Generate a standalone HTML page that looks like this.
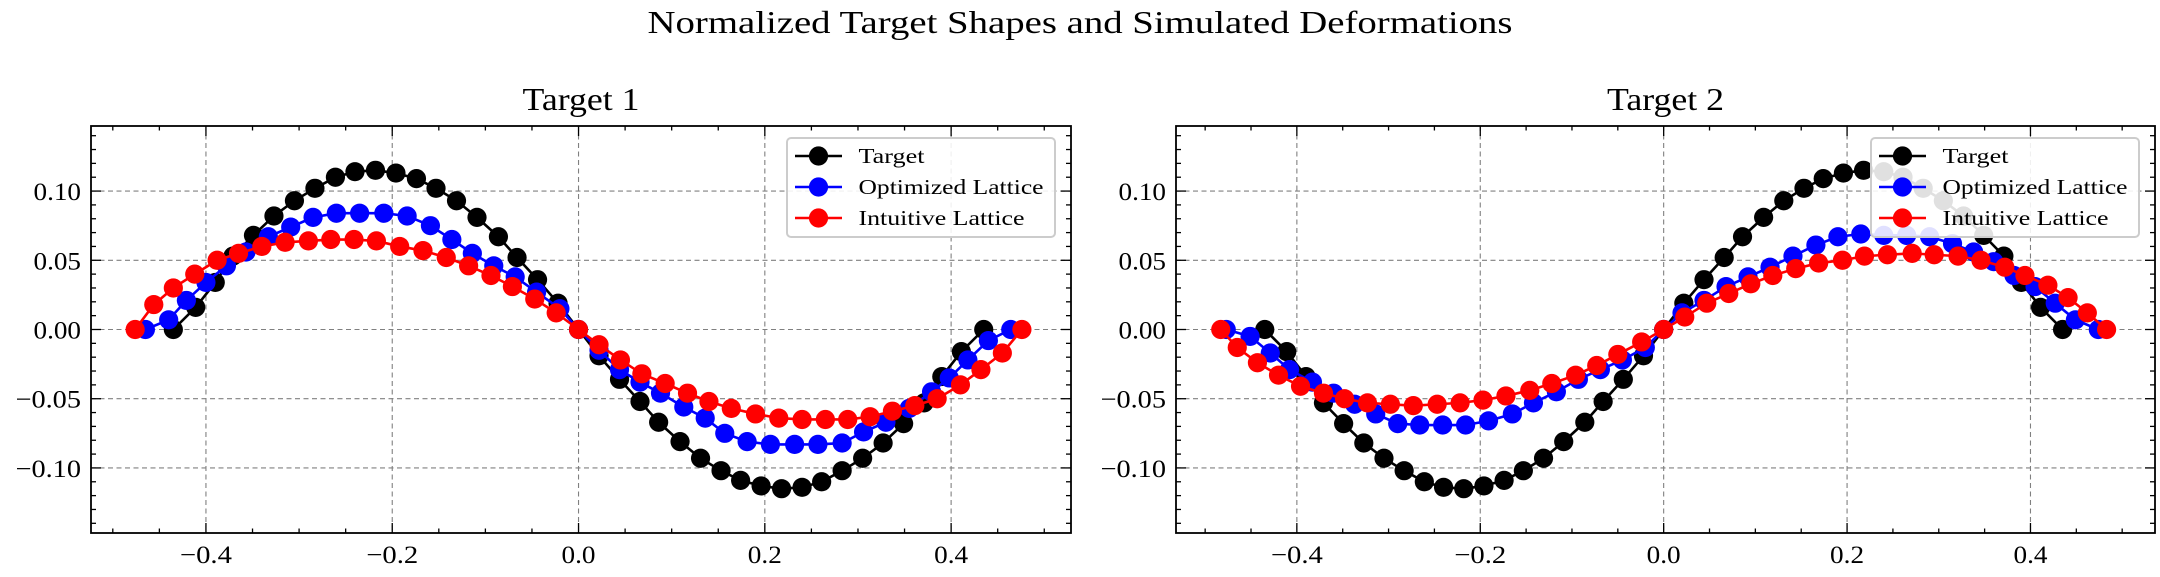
<!DOCTYPE html>
<html><head><meta charset="utf-8"><style>
html,body{margin:0;padding:0;background:#fff;}
svg{display:block;font-family:"Liberation Serif","DejaVu Serif",serif;}
</style></head><body>
<svg id="fig" width="2160" height="577" viewBox="0 0 2160 577" xmlns="http://www.w3.org/2000/svg">
<rect width="2160" height="577" fill="#fff"/>
<text x="1080" y="33" text-anchor="middle" font-size="32" textLength="865" lengthAdjust="spacingAndGlyphs">Normalized Target Shapes and Simulated Deformations</text>
</svg>
<script>
// ---- Target 1 data ----
const t1TargetX = [-0.435,-0.411,-0.390,-0.371,-0.349,-0.327,-0.305,-0.283,-0.261,-0.240,-0.218,-0.196,-0.174,-0.153,-0.131,-0.109,-0.086,-0.066,-0.044,-0.022,0,0.022,0.044,0.066,0.086,0.109,0.131,0.153,0.174,0.196,0.218,0.240,0.261,0.283,0.305,0.327,0.349,0.371,0.390,0.411,0.435];
const t1TargetY = [0,0.016,0.034,0.053,0.068,0.082,0.093,0.102,0.110,0.114,0.115,0.113,0.109,0.102,0.093,0.081,0.067,0.052,0.036,0.019,0,-0.019,-0.036,-0.052,-0.067,-0.081,-0.093,-0.102,-0.109,-0.113,-0.115,-0.114,-0.110,-0.102,-0.093,-0.082,-0.068,-0.053,-0.034,-0.016,0];
const t1OptX = [-0.465,-0.440,-0.421,-0.400,-0.378,-0.357,-0.333,-0.309,-0.285,-0.260,-0.235,-0.209,-0.184,-0.159,-0.136,-0.114,-0.091,-0.068,-0.045,-0.020,0,0.022,0.044,0.066,0.088,0.113,0.136,0.157,0.181,0.206,0.232,0.257,0.283,0.306,0.330,0.355,0.379,0.398,0.418,0.440,0.464];
const t1OptY = [0,0.007,0.021,0.034,0.046,0.056,0.067,0.074,0.081,0.084,0.084,0.084,0.082,0.075,0.065,0.055,0.046,0.038,0.027,0.015,0,-0.015,-0.029,-0.038,-0.046,-0.056,-0.064,-0.075,-0.081,-0.083,-0.083,-0.083,-0.082,-0.074,-0.067,-0.057,-0.045,-0.035,-0.022,-0.008,0];
const t1IntX = [-0.476,-0.456,-0.435,-0.412,-0.388,-0.365,-0.340,-0.315,-0.290,-0.266,-0.241,-0.217,-0.192,-0.167,-0.142,-0.118,-0.094,-0.071,-0.047,-0.024,0,0.022,0.045,0.068,0.093,0.117,0.140,0.164,0.190,0.215,0.240,0.265,0.289,0.313,0.337,0.361,0.385,0.410,0.432,0.455,0.476];
const t1IntY = [0,0.018,0.030,0.040,0.050,0.055,0.060,0.063,0.064,0.065,0.065,0.064,0.060,0.057,0.052,0.046,0.039,0.031,0.022,0.012,0,-0.011,-0.022,-0.032,-0.039,-0.046,-0.052,-0.057,-0.061,-0.064,-0.065,-0.065,-0.065,-0.063,-0.059,-0.055,-0.050,-0.040,-0.029,-0.017,0];
// ---- Target 2 data ----
const t2TargetX = [-0.435,-0.411,-0.390,-0.371,-0.349,-0.327,-0.305,-0.283,-0.261,-0.240,-0.218,-0.196,-0.174,-0.153,-0.131,-0.109,-0.086,-0.066,-0.044,-0.022,0,0.022,0.044,0.066,0.086,0.109,0.131,0.153,0.174,0.196,0.218,0.240,0.261,0.283,0.305,0.327,0.349,0.371,0.390,0.411,0.435];
const t2TargetY = [0,-0.016,-0.034,-0.053,-0.068,-0.082,-0.093,-0.102,-0.110,-0.114,-0.115,-0.113,-0.109,-0.102,-0.093,-0.081,-0.067,-0.052,-0.036,-0.019,0,0.019,0.036,0.052,0.067,0.081,0.093,0.102,0.109,0.113,0.115,0.114,0.110,0.102,0.093,0.082,0.068,0.053,0.034,0.016,0];
const t2OptX = [-0.477,-0.451,-0.429,-0.408,-0.383,-0.360,-0.337,-0.314,-0.290,-0.266,-0.241,-0.216,-0.191,-0.165,-0.142,-0.117,-0.093,-0.069,-0.045,-0.020,0,0.020,0.044,0.068,0.092,0.116,0.141,0.166,0.190,0.215,0.240,0.265,0.290,0.315,0.338,0.360,0.382,0.405,0.427,0.449,0.474];
const t2OptY = [0,-0.005,-0.017,-0.029,-0.038,-0.046,-0.054,-0.061,-0.068,-0.069,-0.069,-0.069,-0.066,-0.061,-0.053,-0.045,-0.036,-0.029,-0.022,-0.013,0,0.012,0.021,0.031,0.038,0.045,0.053,0.061,0.067,0.069,0.068,0.068,0.067,0.062,0.056,0.049,0.039,0.031,0.019,0.007,0];
const t2IntX = [-0.483,-0.465,-0.443,-0.420,-0.396,-0.371,-0.348,-0.323,-0.298,-0.273,-0.247,-0.222,-0.197,-0.172,-0.146,-0.122,-0.096,-0.073,-0.050,-0.024,0,0.023,0.047,0.071,0.095,0.119,0.144,0.169,0.195,0.219,0.244,0.271,0.295,0.321,0.346,0.372,0.394,0.419,0.441,0.462,0.483];
const t2IntY = [0,-0.013,-0.024,-0.033,-0.041,-0.046,-0.050,-0.053,-0.054,-0.055,-0.054,-0.053,-0.051,-0.048,-0.044,-0.039,-0.033,-0.026,-0.018,-0.009,0,0.009,0.019,0.026,0.033,0.039,0.044,0.048,0.050,0.053,0.054,0.055,0.054,0.053,0.050,0.045,0.039,0.032,0.023,0.012,0];
// ---- ticks & labels ----
const xTickVals = [-0.4,-0.2,0.0,0.2,0.4];
const xTickLabels = ["\u22120.4","\u22120.2","0.0","0.2","0.4"];
const yTickVals = [-0.10,-0.05,0.00,0.05,0.10];
const yTickLabels = ["\u22120.10","\u22120.05","0.00","0.05","0.10"];
const seriesNames = ["Target","Optimized Lattice","Intuitive Lattice"];
const seriesColors = ["#000000","#0000ff","#ff0000"];
const panelTitles = ["Target 1","Target 2"];

const NS = "http://www.w3.org/2000/svg";
const svg = document.getElementById('fig');
function mk(tag, attrs, parent){
  const e = document.createElementNS(NS, tag);
  for (const k in attrs) e.setAttribute(k, attrs[k]);
  (parent||svg).appendChild(e);
  return e;
}
function labelWidth(s){
  let w=0;
  for (const c of s){ if(c==='\u2212') w+=18; else if(c==='.') w+=7; else w+=13.5; }
  return w;
}

function drawPanel(idx, frame, xlim, ylim, series){
  const g = mk('g', {});
  
  
  const sx = v => frame.x0 + (v - xlim[0]) / (xlim[1]-xlim[0]) * (frame.x1 - frame.x0);
  const sy = v => frame.y1 - (v - ylim[0]) / (ylim[1]-ylim[0]) * (frame.y1 - frame.y0);
  // grid
  xTickVals.forEach(v => {
    const l = mk('line', {x1:sx(v), x2:sx(v), y1:frame.y0, y2:frame.y1, stroke:'#808080', 'stroke-width':1.1, 'stroke-dasharray':'5,3.5'}, g);
    
    
  });
  yTickVals.forEach(v => {
    const l = mk('line', {x1:frame.x0, x2:frame.x1, y1:sy(v), y2:sy(v), stroke:'#808080', 'stroke-width':1.1, 'stroke-dasharray':'5,3.5'}, g);
    
    
  });
  // series
  series.forEach((s, si) => {
    const sg = mk('g', {}, g);
    
    
    const pts = s.x.map((xv,i) => sx(xv).toFixed(2) + ',' + sy(s.y[i]).toFixed(2)).join(' ');
    const pl = mk('polyline', {points:pts, fill:'none', stroke:seriesColors[si], 'stroke-width':2.6, 'stroke-linejoin':'round'}, sg);
    
    
    s.x.forEach((xv,i) => {
      const c = mk('circle', {cx:sx(xv), cy:sy(s.y[i]), r:9.6, fill:seriesColors[si]}, sg);
      
      
    });
  });
  // ticks
  const tk = mk('g', {stroke:'#000', 'stroke-width':1.3}, g);
  
  
  for (let k=-10; k<=10; k++){
    const v = k*0.05; if (v < xlim[0] || v > xlim[1]) continue;
    const major = (k % 4 === 0);
    const L = major ? 10 : 4.5;
    mk('line', {x1:sx(v), x2:sx(v), y1:frame.y1, y2:frame.y1-L}, tk);
    mk('line', {x1:sx(v), x2:sx(v), y1:frame.y0, y2:frame.y0+L}, tk);
  }
  for (let k=-14; k<=14; k++){
    const v = k*0.01; if (v < ylim[0] || v > ylim[1]) continue;
    const major = (k % 5 === 0);
    const L = major ? 10 : 5;
    mk('line', {y1:sy(v), y2:sy(v), x1:frame.x0, x2:frame.x0+L}, tk);
    mk('line', {y1:sy(v), y2:sy(v), x1:frame.x1, x2:frame.x1-L}, tk);
  }
  // frame
  const fr = mk('rect', {x:frame.x0, y:frame.y0, width:frame.x1-frame.x0, height:frame.y1-frame.y0, fill:'none', stroke:'#000', 'stroke-width':1.8}, g);
  
  
  // tick labels
  xTickVals.forEach((v,i) => {
    const t = mk('text', {x:sx(v), y:frame.y1+30, 'text-anchor':'middle', 'font-size':25, textLength:labelWidth(xTickLabels[i]), lengthAdjust:'spacingAndGlyphs'}, g);
    t.textContent = xTickLabels[i];
    
    
  });
  yTickVals.forEach((v,i) => {
    const t = mk('text', {x:frame.x0-10, y:sy(v)+9, 'text-anchor':'end', 'font-size':25, textLength:labelWidth(yTickLabels[i]), lengthAdjust:'spacingAndGlyphs'}, g);
    t.textContent = yTickLabels[i];
    
    
  });
  // title
  const ti = mk('text', {x:(frame.x0+frame.x1)/2 + 0, y:110, 'text-anchor':'middle', 'font-size':32, textLength:117, lengthAdjust:'spacingAndGlyphs'}, g);
  ti.textContent = panelTitles[idx];
  
  
  // legend
  const lg = mk('g', {}, g);
  
  
  const lx = frame.x1 - 16 - 268, ly = frame.y0 + 12;
  mk('rect', {x:lx, y:ly, width:268, height:99, rx:4, fill:'#fff', 'fill-opacity':0.88, stroke:'#cccccc', 'stroke-width':2}, lg);
  const rowY = [18, 49, 80];
  const txtW = [66, 185, 166];
  seriesNames.forEach((n, si) => {
    const e = mk('g', {}, lg);
    
    
    const yy = ly + rowY[si];
    mk('line', {x1:lx+8, x2:lx+55, y1:yy, y2:yy, stroke:seriesColors[si], 'stroke-width':2.6}, e);
    mk('circle', {cx:lx+31.5, cy:yy, r:9.6, fill:seriesColors[si]}, e);
    const t = mk('text', {x:lx+71.5, y:yy+7, 'font-size':21, textLength:txtW[si], lengthAdjust:'spacingAndGlyphs'}, e);
    t.textContent = n;
  });
}

drawPanel(0, {x0:91, x1:1071, y0:126, y1:533}, [-0.5234, 0.5287], [-0.147, 0.147], [
  {x:t1TargetX, y:t1TargetY}, {x:t1OptX, y:t1OptY}, {x:t1IntX, y:t1IntY}
]);
drawPanel(1, {x0:1176, x1:2155, y0:126, y1:533}, [-0.5318, 0.5358], [-0.147, 0.147], [
  {x:t2TargetX, y:t2TargetY}, {x:t2OptX, y:t2OptY}, {x:t2IntX, y:t2IntY}
]);
</script>
</body></html>
